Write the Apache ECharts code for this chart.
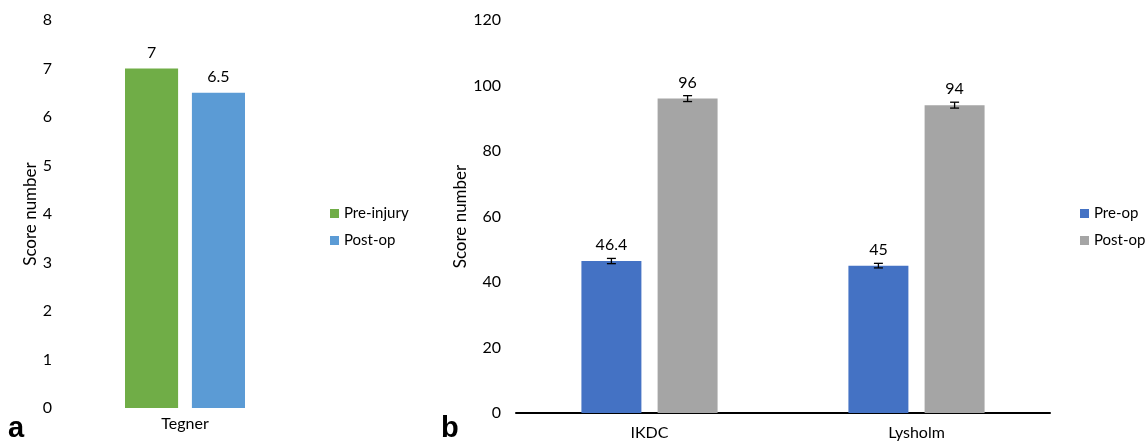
<!DOCTYPE html>
<html>
<head>
<meta charset="utf-8">
<script src="https://cdn.jsdelivr.net/npm/echarts@6/dist/echarts.min.js"></script>
<style>html,body{margin:0;padding:0;background:#fff;}#c{width:1146px;height:446px;}</style>
</head>
<body>
<div id="c"></div>
<script>
// ---- data ----
const tegnerCats = ['Tegner'];
const preInjury = [7];
const postOpTegner = [6.5];
const scoreCats = ['IKDC', 'Lysholm'];
const preOp = [46.4, 45];
const postOp = [96, 94];
const preOpErr = [0.8, 0.7];
const postOpErr = [0.9, 0.9];
const leftTicks = { min: 0, max: 8, interval: 1 };
const rightTicks = { min: 0, max: 120, interval: 20 };

const FONT = 'Lato, "Open Sans", sans-serif';
const FS = 16;
const GREEN = '#70AD47', LBLUE = '#5B9BD5', DBLUE = '#4472C4', GRAY = '#A5A5A5';
const CAT_GAP_R = 0.49, BAR_GAP_R = 0.27;

const errData = [];
preOp.forEach((v, i) => errData.push([i, v, preOpErr[i], 0]));
postOp.forEach((v, i) => errData.push([i, v, postOpErr[i], 1]));

const labelCfg = { show: true, position: 'top', distance: 8, color: '#000', fontSize: FS, fontFamily: FONT };
const tickLbl = (m) => ({ color: '#000', fontSize: FS, fontFamily: FONT, margin: m });

const chart = echarts.init(document.getElementById('c'), null, { renderer: 'canvas' });
chart.setOption({
  animation: false,
  textStyle: { fontFamily: FONT },
  grid: [
    { left: 65, top: 20, width: 240, height: 388 },
    { left: 516, top: 20, width: 534, height: 393 }
  ],
  xAxis: [
    { type: 'category', gridIndex: 0, data: tegnerCats,
      axisLine: { show: false }, axisTick: { show: false }, axisLabel: tickLbl(8) },
    { type: 'category', gridIndex: 1, data: scoreCats,
      axisLine: { show: true, lineStyle: { color: '#000', width: 2 } }, axisTick: { show: false },
      axisLabel: tickLbl(12) }
  ],
  yAxis: [
    { type: 'value', gridIndex: 0, min: leftTicks.min, max: leftTicks.max, interval: leftTicks.interval,
      name: 'Score number', nameLocation: 'middle', nameGap: 22,
      nameTextStyle: { color: '#000', fontSize: 17, fontFamily: FONT },
      axisLine: { show: false }, axisTick: { show: false }, splitLine: { show: false },
      axisLabel: tickLbl(13) },
    { type: 'value', gridIndex: 1, min: rightTicks.min, max: rightTicks.max, interval: rightTicks.interval,
      name: 'Score number', nameLocation: 'middle', nameGap: 46,
      nameTextStyle: { color: '#000', fontSize: 17, fontFamily: FONT },
      axisLine: { show: false }, axisTick: { show: false }, splitLine: { show: false },
      axisLabel: tickLbl(15) }
  ],
  legend: [
    { orient: 'vertical', left: 330, top: 206, padding: 0, itemWidth: 9, itemHeight: 9, itemGap: 12,
      icon: 'rect', textStyle: { color: '#000', fontSize: 15, fontFamily: FONT },
      data: [{ name: 'Pre-injury', itemStyle: { color: GREEN } }, { name: 'Post-op', itemStyle: { color: LBLUE } }],
      selectedMode: false },
    { orient: 'vertical', left: 1080, top: 206, padding: 0, itemWidth: 9, itemHeight: 9, itemGap: 12,
      icon: 'rect', textStyle: { color: '#000', fontSize: 15, fontFamily: FONT },
      data: [{ name: 'Pre-op', itemStyle: { color: DBLUE } }, { name: 'Post-op', itemStyle: { color: GRAY } }],
      selectedMode: false }
  ],
  graphic: [
    { type: 'text', left: 8, top: 414, style: { text: 'a', font: 'bold 29px "Liberation Sans", Arial, sans-serif', fill: '#000' } },
    { type: 'text', left: 441, top: 414, style: { text: 'b', font: 'bold 29px "Liberation Sans", Arial, sans-serif', fill: '#000' } }
  ],
  series: [
    { name: 'Pre-injury', type: 'bar', xAxisIndex: 0, yAxisIndex: 0, data: preInjury,
      itemStyle: { color: GREEN }, barCategoryGap: '50%', barGap: '26%', label: labelCfg },
    { name: 'Post-op', type: 'bar', xAxisIndex: 0, yAxisIndex: 0, data: postOpTegner,
      itemStyle: { color: LBLUE }, barCategoryGap: '50%', barGap: '26%', label: labelCfg },
    { name: 'Pre-op', type: 'bar', xAxisIndex: 1, yAxisIndex: 1, data: preOp,
      itemStyle: { color: DBLUE }, barCategoryGap: (CAT_GAP_R * 100) + '%', barGap: (BAR_GAP_R * 100) + '%', label: labelCfg },
    { name: 'Post-op', type: 'bar', xAxisIndex: 1, yAxisIndex: 1, data: postOp,
      itemStyle: { color: GRAY }, barCategoryGap: (CAT_GAP_R * 100) + '%', barGap: (BAR_GAP_R * 100) + '%', label: labelCfg },
    { name: 'err', type: 'custom', xAxisIndex: 1, yAxisIndex: 1, z: 5, data: errData,
      encode: { x: 0, y: 1 },
      renderItem: function (params, api) {
        const ci = api.value(0), v = api.value(1), e = api.value(2), s = api.value(3);
        const band = api.size([1, 0])[0];
        const total = band * (1 - CAT_GAP_R);
        const w = total / (2 + BAR_GAP_R);
        const off = (w / 2 + w * BAR_GAP_R / 2) * (s ? 1 : -1);
        const hi = api.coord([ci, v + e]);
        const lo = api.coord([ci, v - e]);
        const x = hi[0] + off;
        const cap = 4.5;
        const st = { stroke: '#000', lineWidth: 1.3 };
        return { type: 'group', children: [
          { type: 'line', shape: { x1: x, y1: hi[1], x2: x, y2: lo[1] }, style: st },
          { type: 'line', shape: { x1: x - cap, y1: hi[1], x2: x + cap, y2: hi[1] }, style: st },
          { type: 'line', shape: { x1: x - cap, y1: lo[1], x2: x + cap, y2: lo[1] }, style: st }
        ] };
      }
    }
  ]
});
</script>
</body>
</html>
